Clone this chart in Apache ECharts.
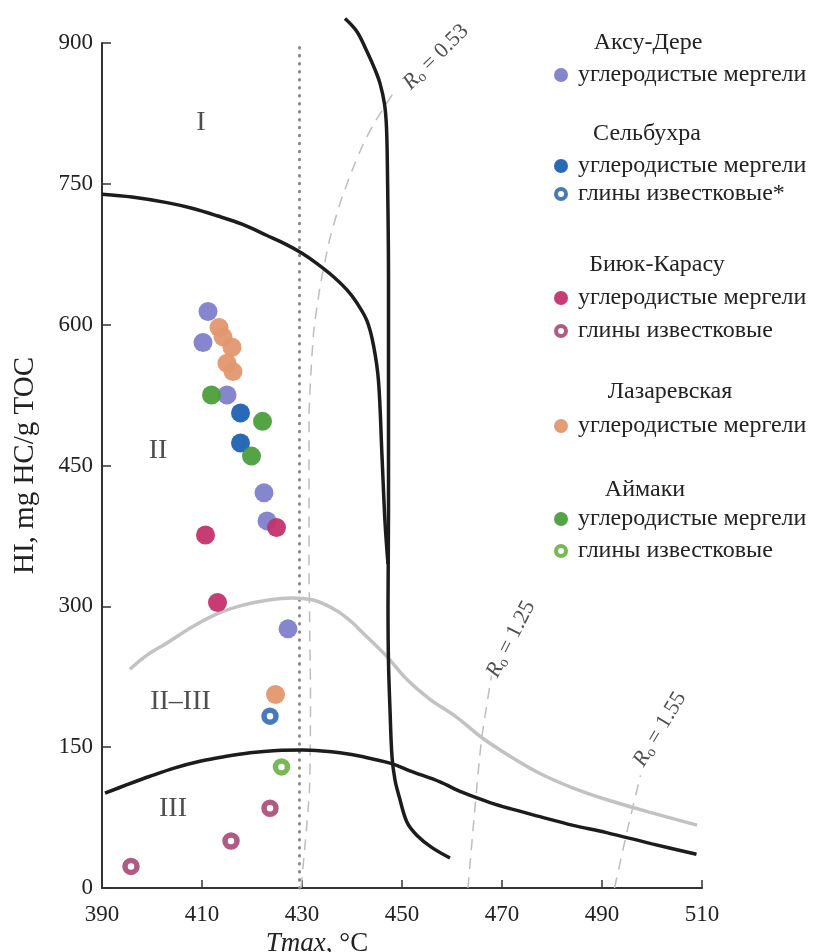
<!DOCTYPE html>
<html>
<head>
<meta charset="utf-8">
<script src="https://cdn.jsdelivr.net/npm/echarts@6/dist/echarts.min.js"></script>
<style>
html, body { margin: 0; padding: 0; background: #fff; }
#chart { width: 815px; height: 952px; }
</style>
</head>
<body>
<div id="chart"></div>
<script>
// Tmax (°C), HI (mg HC/g TOC)
const aksuMarl   = [[411.2, 614], [410.2, 581], [415, 525], [422.4, 421], [423, 391], [427.2, 276]];
const selbMarl   = [[417.7, 506], [417.7, 474]];
const selbClay   = [[423.6, 183]];
const biyukMarl  = [[410.7, 376], [424.9, 384], [413.1, 304]];
const biyukClay  = [[395.8, 23], [415.8, 50], [423.6, 85]];
const lazarMarl  = [[413.4, 597], [414.2, 587], [416, 576], [415, 559], [416.2, 550], [424.7, 206]];
const aymMarl    = [[411.9, 525], [422.1, 497], [419.9, 460]];
const aymClay    = [[425.9, 129]];

// boundary curves
const curveI = [[390, 739], [396, 736], [403, 730], [408, 724], [413, 716], [418, 707], [423, 695], [427, 685],
  [430, 676], [433, 665], [436.3, 651], [439, 637], [441, 623], [443, 604], [444.3, 578], [445.3, 540],
  [446, 460], [446.6, 390], [447.2, 345]];
const curveVert = [[438.6, 926], [441, 912], [442.9, 892], [444.5, 873], [445.6, 857], [446.5, 835], [446.9, 810],
  [447.1, 760], [447.3, 650], [447.3, 520], [447.3, 400], [447.2, 300], [447.3, 240], [447.6, 190], [448, 140],
  [448.6, 115], [449.4, 98], [451, 70], [453, 56], [456, 43], [459.6, 32]];
const curveII = [[395.6, 233], [399, 248], [403, 261], [408, 278], [413, 292], [418, 301], [423, 306.5], [428, 309],
  [432, 307], [435, 301], [437.6, 293], [440, 283], [442.3, 271], [446.9, 247], [451, 222], [455.6, 201],
  [460.9, 182], [466, 160], [472, 139], [477.6, 122], [484, 107], [491, 94], [500, 80], [509, 67]];
const curveIII = [[390.6, 101], [395, 110], [399.6, 119], [404.6, 128], [409.6, 135], [414.6, 140], [419.6, 144],
  [425, 146.5], [430, 147], [434, 146], [437.6, 144], [442, 140], [447.6, 133], [452, 124], [457.6, 113],
  [462, 102], [467.6, 91], [472, 84], [477.6, 76], [484, 67], [490.9, 59], [500, 47], [508.9, 36]];
const ro053 = [[429.8, 0], [430.6, 45], [431.5, 105], [431.7, 200], [431.4, 350], [431.4, 500], [432.3, 590],
  [433.6, 640], [435.5, 690], [437.6, 729], [440, 764], [442.3, 793], [444.5, 815], [446.6, 833], [448.9, 852]];
const ro125 = [[463.2, 0], [464.5, 80], [465.9, 158], [467.9, 226]];
const ro155 = [[492.5, 0], [495, 60], [497.7, 120]];
const tmaxLine = [[429.5, 0], [429.5, 900]];

const regionLabels = [['I', 409.8, 815], ['II', 401.2, 466], ['II–III', 405.7, 199], ['III', 404.2, 85]];
const roLabels = [['0.53', 456.8, 885], ['1.25', 471.8, 265], ['1.55', 501.6, 169]];

const SERIF = "'Liberation Serif', 'DejaVu Serif', serif";

function dots(name, data, color, open) {
    return {
        name: name,
        type: 'scatter',
        data: data,
        z: 5,
        symbolSize: open ? 12 : 19,
        itemStyle: open ? { color: '#fff', borderColor: color, borderWidth: 5.5 } : { color: color, opacity: 0.95 }
    }
}

function curve(name, data, color, width, type, cap) {
    return {
        name: name,
        type: 'line',
        data: data,
        symbol: 'none',
        smooth: type === 'solid' ? 0.35 : 0.2,
        clip: false,
        silent: true,
        z: 2,
        lineStyle: { color: color, width: width, type: type, cap: cap || 'butt' }
    }
}

// heading text, centre x, centre y
const groups = [
    ['Аксу-Дере', 648, 43],
    ['Сельбухра', 647, 134],
    ['Биюк-Карасу', 657, 265],
    ['Лазаревская', 670, 392],
    ['Аймаки', 645, 490]
];

// series name, colour, open ring?, icon centre y
const legendItems = [
    ['Аксу-Дере / углеродистые мергели', '#7f80cc', false, 75],
    ['Сельбухра / углеродистые мергели', '#1d62b2', false, 166],
    ['Сельбухра / глины известковые*', '#1a58a8', true, 194],
    ['Биюк-Карасу / углеродистые мергели', '#c3316c', false, 298],
    ['Биюк-Карасу / глины известковые', '#9e3164', true, 331],
    ['Лазаревская / углеродистые мергели', '#e2976f', false, 426],
    ['Аймаки / углеродистые мергели', '#4b9e3a', false, 519],
    ['Аймаки / глины известковые', '#56a82a', true, 551]
];

const pointData = [aksuMarl, selbMarl, selbClay, biyukMarl, biyukClay, lazarMarl, aymMarl, aymClay];

const roRotate = [45, 63, 59];

const chart = echarts.init(document.getElementById('chart'));

chart.setOption({
    animation: false,
    backgroundColor: '#fff',
    grid: { left: 102, right: 113, top: 43, bottom: 64, containLabel: false, outerBoundsMode: 'none' },
    xAxis: {
        type: 'value',
        min: 390, max: 510, interval: 20,
        name: '{i|Tmax}, °C',
        nameLocation: 'middle',
        nameGap: 36,
        nameTextStyle: {
            fontFamily: SERIF, fontSize: 27, color: '#222',
            padding: [0, 170, 0, 0],
            rich: { i: { fontStyle: 'italic', fontFamily: SERIF, fontSize: 27, color: '#222' } }
        },
        axisLine: { lineStyle: { color: '#333', width: 2 } },
        axisTick: { inside: true, length: 8, lineStyle: { color: '#333', width: 1.5 } },
        axisLabel: { fontFamily: SERIF, fontSize: 23, color: '#222', margin: 15 },
        splitLine: { show: false }
    },
    yAxis: {
        type: 'value',
        min: 0, max: 900, interval: 150,
        name: 'HI, mg HC/g TOC',
        nameLocation: 'middle',
        nameGap: 62,
        nameTextStyle: { fontFamily: SERIF, fontSize: 29, color: '#222' },
        axisLine: { show: true, lineStyle: { color: '#333', width: 2 } },
        axisTick: { show: true, inside: true, length: 9, lineStyle: { color: '#333', width: 1.5 } },
        axisLabel: { fontFamily: SERIF, fontSize: 23, color: '#222', margin: 9 },
        splitLine: { show: false }
    },
    legend: legendItems.map(it => ({
        data: [{
            name: it[0],
            icon: 'circle',
            itemStyle: it[2] ? { color: '#fff', borderColor: it[1], borderWidth: 4 } : { color: it[1], borderWidth: 0 }
        }],
        left: 554,
        top: it[3] - 12,
        padding: 0,
        itemWidth: 24,
        itemHeight: it[2] ? 10 : 14,
        selectedMode: false,
        formatter: n => n.split(' / ')[1],
        textStyle: { fontFamily: SERIF, fontSize: 24, color: '#222' }
    })),
    graphic: groups.map(g => ({
        type: 'text',
        x: g[1],
        y: g[2],
        style: {
            text: g[0], fill: '#222', fontFamily: SERIF, fontSize: 24,
            align: 'center', verticalAlign: 'middle'
        }
    })),
    series: [
        curve('tmax', tmaxLine, '#888', 3, [0.5, 7.5], 'round'),
        curve('ro053', ro053, '#bdbdbd', 1.5, [11, 8]),
        curve('ro125', ro125, '#bdbdbd', 1.5, [11, 8]),
        curve('ro155', ro155, '#bdbdbd', 1.5, [11, 8]),
        curve('II', curveII, '#c2c2c2', 3.5, 'solid'),
        curve('I', curveI, '#1c1c1c', 3.5, 'solid'),
        curve('vert', curveVert, '#1c1c1c', 3.5, 'solid'),
        curve('III', curveIII, '#1c1c1c', 3.5, 'solid'),
        ...legendItems.map((it, i) => dots(it[0], pointData[i], it[1], it[2])),
        {
            name: 'regions',
            type: 'scatter',
            symbolSize: 0,
            silent: true,
            z: 4,
            data: regionLabels.map(r => ({ value: [r[1], r[2]], name: r[0] })),
            label: {
                show: true, position: 'inside', formatter: p => p.name,
                fontFamily: SERIF, fontSize: 28, color: '#222'
            }
        },
        {
            name: 'ro',
            type: 'scatter',
            symbolSize: 0,
            silent: true,
            z: 4,
            data: roLabels.map((r, i) => ({
                value: [r[1], r[2]],
                name: r[0],
                label: { rotate: roRotate[i] }
            })),
            label: {
                show: true, position: 'inside',
                formatter: p => '{r|R}{s|o}{t| = ' + p.name + '}',
                rich: {
                    r: { fontFamily: SERIF, fontStyle: 'italic', fontSize: 22, color: '#222' },
                    s: { fontFamily: SERIF, fontSize: 15, color: '#222', verticalAlign: 'bottom', padding: [9, 0, 0, 0] },
                    t: { fontFamily: SERIF, fontSize: 22, color: '#222' }
                }
            }
        }
    ]
});
</script>
</body>
</html>
